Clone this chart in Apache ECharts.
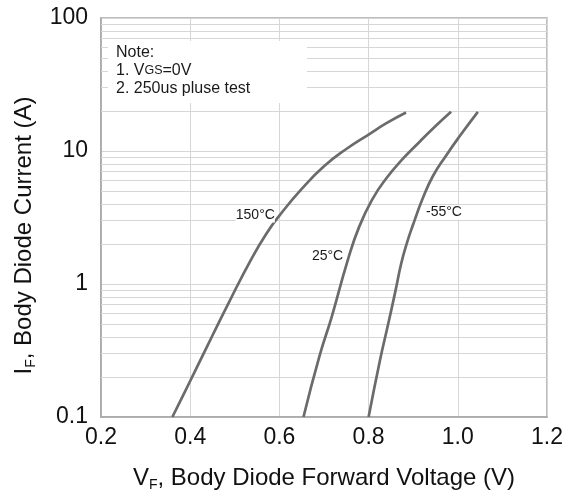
<!DOCTYPE html>
<html>
<head>
<meta charset="utf-8">
<script src="https://cdn.jsdelivr.net/npm/echarts@6/dist/echarts.min.js"></script>
<style>
html,body{margin:0;padding:0;background:#fff;}
#c{width:574px;height:493px;}
</style>
</head>
<body>
<div id="c"></div>
<script>
// ---- data ----
const vf150 = [0.360, 0.383, 0.413, 0.451, 0.488, 0.537, 0.570, 0.600, 0.650, 0.700, 0.750, 0.800, 0.840, 0.884];
const if150 = [0.1, 0.143, 0.229, 0.417, 0.741, 1.54, 2.37, 3.27, 5.19, 7.67, 10.35, 13.3, 16.2, 19.5];

const vf25 = [0.654, 0.690, 0.718, 0.753, 0.779, 0.809, 0.839, 0.877, 0.914, 0.952, 0.985];
const if25 = [0.1, 0.288, 0.577, 1.50, 2.70, 4.37, 6.18, 8.75, 11.7, 15.6, 19.7];

const vf55 = [0.800, 0.826, 0.843, 0.860, 0.873, 0.886, 0.899, 0.921, 0.944, 0.974, 1.004, 1.045];
const if55 = [0.1, 0.272, 0.485, 0.88, 1.42, 2.04, 2.75, 4.37, 6.46, 9.27, 12.9, 19.7];

const curveNames = ['150°C', '25°C', '-55°C'];
const labelAt = [[0.546, 3.28], [0.708, 1.63], [0.969, 3.45]];

const xTickLabels = ['0.2', '0.4', '0.6', '0.8', '1.0', '1.2'];
const yTickLabels = ['0.1', '1', '10', '100'];
const minorY = [0.2,0.3,0.4,0.5,0.6,0.7,0.8,0.9, 2,3,4,5,6,7,8,9, 20,30,40,50,60,70,80,90];

const noteLines = ['Note:', '1. V', 'GS', '=0V', '2. 250us pluse test'];

// ---- chart ----
const FONT = '"Liberation Sans", Arial, sans-serif';
const zip = (xs, ys) => xs.map((x, i) => [x, ys[i]]);
const curves = [zip(vf150, if150), zip(vf25, if25), zip(vf55, if55)];

const chart = echarts.init(document.getElementById('c'), null, {renderer: 'canvas'});

const series = curves.map((d, i) => ({
  type: 'line',
  name: curveNames[i],
  data: d,
  smooth: 0.5,
  showSymbol: false,
  silent: true,
  lineStyle: {color: '#6b6b6b', width: 2.7},
  markPoint: {
    silent: true,
    symbol: 'rect',
    symbolSize: 1,
    itemStyle: {color: 'rgba(0,0,0,0)'},
    label: {
      show: true,
      position: 'inside',
      formatter: curveNames[i],
      fontFamily: FONT,
      fontSize: 14,
      color: '#1a1a1a',
      backgroundColor: '#fff',
      padding: [0, 0]
    },
    data: [{coord: labelAt[i]}]
  }
}));

series.push({
  type: 'line',
  data: [],
  silent: true,
  markLine: {
    silent: true,
    z: 1,
    symbol: ['none', 'none'],
    label: {show: false},
    lineStyle: {color: '#d6d6d6', width: 1, type: 'solid'},
    data: minorY.map(v => ({yAxis: v}))
  }
});

chart.setOption({
  animation: false,
  backgroundColor: '#fff',
  textStyle: {fontFamily: FONT},
  grid: {left: 101, right: 27, top: 18, bottom: 76, show: true,
         containLabel: false, outerBoundsMode: 'none',
         borderColor: '#a6a6a6', borderWidth: 1.5, backgroundColor: 'transparent'},
  xAxis: {
    type: 'value', min: 0.2, max: 1.2, interval: 0.2,
    axisLine: {show: true, lineStyle: {color: '#a6a6a6', width: 1.5}},
    axisTick: {show: false},
    splitLine: {show: true, lineStyle: {color: '#d6d6d6', width: 1}},
    axisLabel: {fontFamily: FONT, fontSize: 23, color: '#111', margin: 9,
                formatter: (v, i) => xTickLabels[i]},
    name: '{m|V}{s|F}{m|, Body Diode Forward Voltage (V)}',
    nameLocation: 'middle', nameGap: 48,
    nameTextStyle: {
      rich: {
        m: {fontFamily: FONT, fontSize: 24, color: '#111', lineHeight: 27},
        s: {fontFamily: FONT, fontSize: 14, color: '#111', lineHeight: 14, verticalAlign: 'bottom'}
      }
    }
  },
  yAxis: {
    type: 'log', logBase: 10, min: 0.1, max: 100,
    axisLine: {show: true, lineStyle: {color: '#a6a6a6', width: 1.5}},
    axisTick: {show: false},
    splitLine: {show: true, lineStyle: {color: '#d6d6d6', width: 1}},
    minorTick: {show: false},
    minorSplitLine: {show: false},
    axisLabel: {fontFamily: FONT, fontSize: 23, color: '#111', margin: 13,
                formatter: (v, i) => yTickLabels[i]},
    name: '{m|I}{s|F}{m|, Body Diode Current (A)}',
    nameLocation: 'middle', nameGap: 63,
    nameTextStyle: {
      padding: [0, 36, 0, 0],
      rich: {
        m: {fontFamily: FONT, fontSize: 24, color: '#111', lineHeight: 27},
        s: {fontFamily: FONT, fontSize: 14, color: '#111', lineHeight: 14, verticalAlign: 'bottom'}
      }
    }
  },
  graphic: [
    {type: 'rect', z: 10, silent: true, shape: {x: 108, y: 41, width: 199, height: 62},
     style: {fill: '#fff'}},
    {type: 'text', z: 11, silent: true, left: 116, top: 45,
     style: {
       text: '{b|' + noteLines[0] + '}\n{b|' + noteLines[1] + '}{g|' + noteLines[2] + '}{b|' + noteLines[3] + '}\n{b|' + noteLines[4] + '}',
       rich: {
         b: {fontFamily: FONT, fontSize: 16, fill: '#1a1a1a', lineHeight: 18},
         g: {fontFamily: FONT, fontSize: 12.5, fill: '#1a1a1a', lineHeight: 18}
       }
     }}
  ],
  series: series
});
</script>
</body>
</html>
